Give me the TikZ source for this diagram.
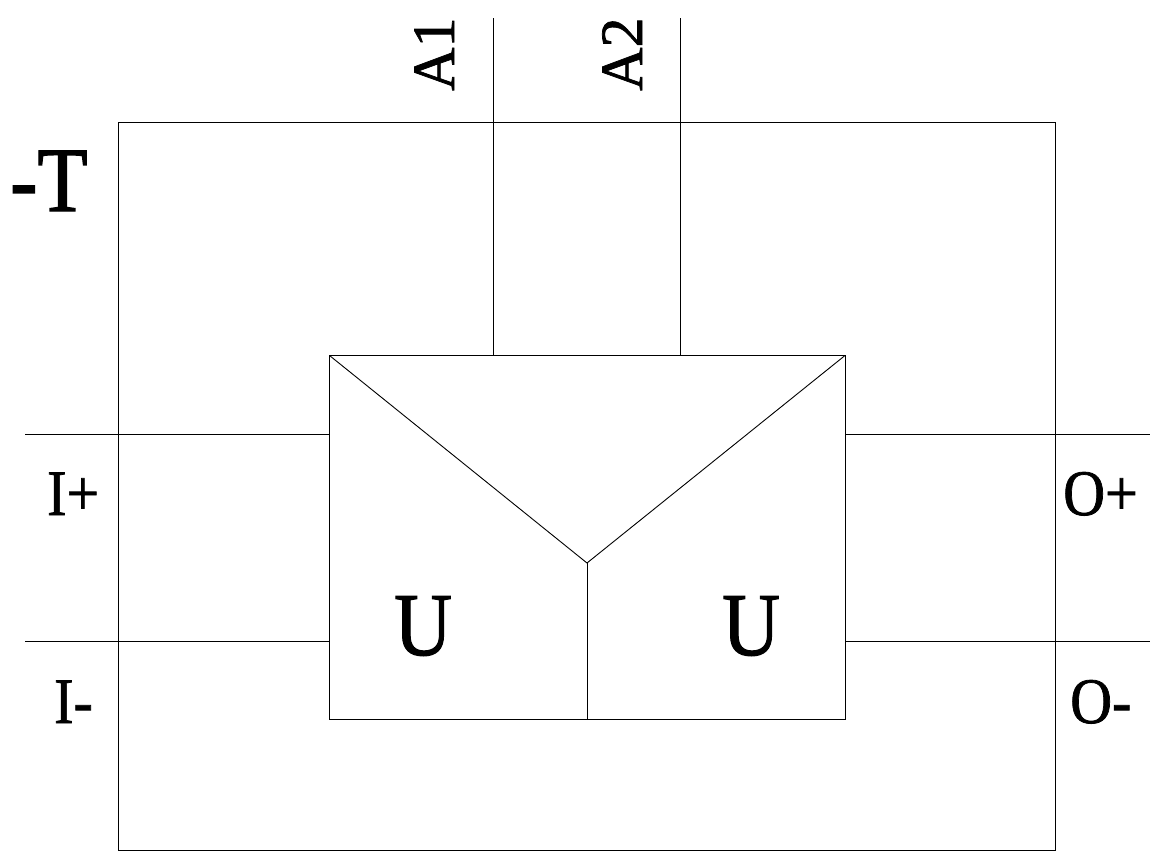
\documentclass[tikz,border=0pt]{standalone}
\usepackage{graphicx}
\usepackage{fontspec}
\setmainfont{Liberation Serif}
\newcommand{\tallbox}[1]{\scalebox{1}[1.12]{#1}}
\tikzset{
  wire/.style={draw=black,line width=0.9pt},
  lab/.style={inner sep=0pt,text=black,anchor=base west},
  smalltext/.style={font=\fontsize{58}{58}\selectfont\addfontfeature{FakeBold=1.2}},
  bigtext/.style={font=\fontsize{80}{80}\selectfont\addfontfeature{FakeBold=1.4}},
  hugetext/.style={font=\fontsize{82}{82}\selectfont\addfontfeature{FakeBold=1.6}},
  sidetext/.style={rotate=90,font=\fontsize{60}{60}\selectfont\addfontfeature{FakeBold=1.2}},
}
\begin{document}
\begin{tikzpicture}[x=1pt,y=-1pt]
\useasboundingbox (0,0) rectangle (1152,854);
\fill[white] (0,0) rectangle (1152,854);
% corners and free ends
\coordinate (oTL) at (118.5,122.5);
\coordinate (oBR) at (1055.5,850);
\coordinate (iTL) at (329.5,355.5);
\coordinate (iTR) at (845,355.5);
\coordinate (iBR) at (845,719.5);
\coordinate (iBL) at (329.5,719.5);
\coordinate (mid) at (587,563);
\coordinate (midB) at (587,719.5);
\coordinate (a1t) at (493.3,18);
\coordinate (a1b) at (493.3,355.5);
\coordinate (a2t) at (680.8,18);
\coordinate (a2b) at (680.8,355.5);
\coordinate (ipl) at (25,434);
\coordinate (ipr) at (329.5,434);
\coordinate (iml) at (25,641.5);
\coordinate (imr) at (329.5,641.5);
\coordinate (opl) at (845,434);
\coordinate (opr) at (1150,434);
\coordinate (oml) at (845,641.5);
\coordinate (omr) at (1150,641.5);
% boxes
\draw[wire] (oTL) rectangle (oBR);
\draw[wire] (iTL) -- (iTR) -- (iBR) -- (iBL) -- cycle;
\draw[wire] (iTL) -- (mid) -- (iTR);
\draw[wire] (mid) -- (midB);
% connectors
\draw[wire] (a1t) -- (a1b);
\draw[wire] (a2t) -- (a2b);
\draw[wire] (ipl) -- (ipr);
\draw[wire] (iml) -- (imr);
\draw[wire] (opl) -- (opr);
\draw[wire] (oml) -- (omr);
% labels
\node[lab,hugetext] (tT) at (10,211) {\tallbox{-T}};
\node[lab,smalltext] (tIp) at (47,515) {\tallbox{I+}};
\node[lab,smalltext] (tIm) at (54,723) {\tallbox{I-}};
\node[lab,smalltext] (tOp) at (1063,515) {\tallbox{O+}};
\node[lab,smalltext] (tOm) at (1070,723) {\tallbox{O-}};
\node[lab,bigtext] (tU1) at (394,655) {\tallbox{U}};
\node[lab,bigtext] (tU2) at (722,655) {\tallbox{U}};
\node[lab,sidetext] (tA1) at (454,91) {A1};
\node[lab,sidetext] (tA2) at (642,91) {A2};
\end{tikzpicture}
\end{document}
